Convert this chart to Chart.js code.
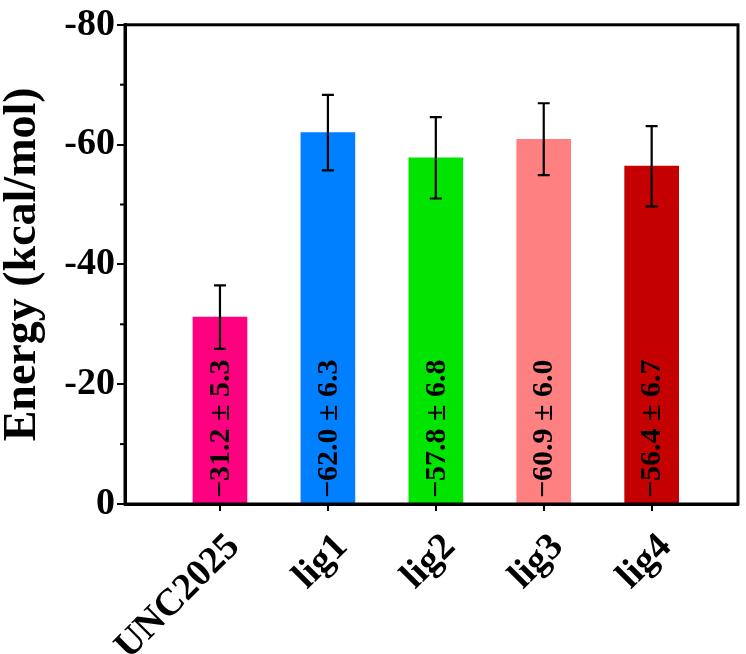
<!DOCTYPE html>
<html>
<head>
<meta charset="utf-8">
<script src="https://cdn.jsdelivr.net/npm/chart.js@4/dist/chart.umd.min.js"></script>
<style>
html,body{margin:0;padding:0;background:#fff;}
#wrap{width:746px;height:654px;position:relative;}
</style>
</head>
<body>
<div id="wrap"><canvas id="c" width="746" height="654"></canvas></div>
<script>
const categories = ["UNC2025", "lig1", "lig2", "lig3", "lig4"];
const energies = [-31.2, -62.0, -57.8, -60.9, -56.4];
const errors = [5.3, 6.3, 6.8, 6.0, 6.7];
const barColors = ["#FF0080", "#0080FF", "#00E400", "#FF8080", "#C40000"];
const yTicks = [0, -20, -40, -60, -80];
const minorTicks = [-10, -30, -50, -70];

const SERIF = "'Liberation Serif','Times New Roman',serif";

const boxPlugin = {
  id: 'box',
  afterDraw(chart) {
    const {ctx, chartArea: a, scales} = chart;
    ctx.save();
    ctx.strokeStyle = '#000';
    ctx.lineWidth = 3;
    ctx.strokeRect(a.left, a.top, a.right - a.left, a.bottom - a.top);
    ctx.lineWidth = 2;
    minorTicks.forEach(v => {
      const y = scales.y.getPixelForValue(v);
      ctx.beginPath();
      ctx.moveTo(a.left - 5, y);
      ctx.lineTo(a.left, y);
      ctx.stroke();
    });
    ctx.restore();
  }
};

const errPlugin = {
  id: 'err',
  afterDatasetsDraw(chart) {
    const {ctx, scales} = chart;
    ctx.save();
    ctx.strokeStyle = '#000';
    ctx.lineWidth = 2.2;
    energies.forEach((v, i) => {
      const x = scales.x.getPixelForValue(i + 1);
      const y1 = scales.y.getPixelForValue(v - errors[i]);
      const y2 = scales.y.getPixelForValue(v + errors[i]);
      ctx.beginPath();
      ctx.moveTo(x, y1); ctx.lineTo(x, y2);
      ctx.moveTo(x - 6, y1); ctx.lineTo(x + 6, y1);
      ctx.moveTo(x - 6, y2); ctx.lineTo(x + 6, y2);
      ctx.stroke();
    });
    ctx.fillStyle = '#000';
    ctx.font = "bold 30px " + SERIF;
    ctx.textAlign = 'left';
    ctx.textBaseline = 'middle';
    energies.forEach((v, i) => {
      const x = scales.x.getPixelForValue(i + 1);
      const yb = scales.y.getPixelForValue(0);
      ctx.save();
      ctx.translate(x + 1, yb - 6);
      ctx.rotate(-Math.PI / 2);
      ctx.fillText("\u2212" + Math.abs(v).toFixed(1) + " \u00B1 " + errors[i].toFixed(1), 0, 0);
      ctx.restore();
    });
    ctx.restore();
  }
};

new Chart(document.getElementById('c'), {
  type: 'bar',
  data: {
    datasets: [{
      data: energies.map((v, i) => ({x: i + 1, y: v})),
      backgroundColor: barColors,
      borderWidth: 0,
      barThickness: 54
    }]
  },
  options: {
    responsive: false,
    animation: false,
    events: [],
    layout: {padding: {top: 20, right: 8, left: 0, bottom: 0}},
    plugins: {legend: {display: false}, tooltip: {enabled: false}},
    scales: {
      x: {
        type: 'linear',
        offset: false,
        min: 0.12,
        max: 5.8,
        afterBuildTicks: s => { s.ticks = categories.map((c, i) => ({value: i + 1})); },
        afterFit: s => { s.height = 150; },
        grid: {offset: false, drawOnChartArea: false, drawTicks: true, tickLength: 7, color: '#000', lineWidth: 2},
        border: {display: true, color: '#000', width: 3},
        ticks: {
          autoSkip: false,
          maxRotation: 45, minRotation: 45,
          padding: 14,
          labelOffset: 14,
          color: '#000',
          font: {family: SERIF, size: 38, weight: 'bold'},
          callback: v => categories[Math.round(v) - 1] || ''
        }
      },
      y: {
        reverse: true,
        min: -80,
        max: 0,
        afterBuildTicks: s => { s.ticks = yTicks.map(v => ({value: v})); },
        afterFit: s => { s.width = 125; },
        grid: {drawOnChartArea: false, drawTicks: true, tickLength: 8, color: '#000', lineWidth: 2},
        border: {display: true, color: '#000', width: 3},
        ticks: {
          padding: 2,
          color: '#000',
          font: {family: SERIF, size: 38, weight: 'bold'},
          callback: v => String(v)
        },
        title: {
          display: true,
          text: 'Energy (kcal/mol)',
          color: '#000',
          padding: {top: 0, bottom: 0},
          font: {family: SERIF, size: 46, weight: 'bold', lineHeight: 1.0}
        }
      }
    }
  },
  plugins: [boxPlugin, errPlugin]
});
</script>
</body>
</html>
